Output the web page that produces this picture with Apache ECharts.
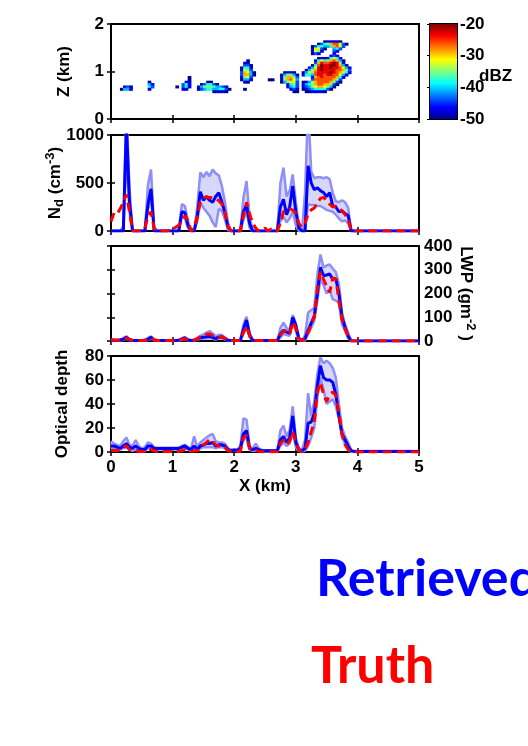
<!DOCTYPE html>
<html>
<head>
<meta charset="utf-8">
<script src="https://cdn.jsdelivr.net/npm/echarts@6/dist/echarts.min.js"></script>
<style>
  html, body { margin: 0; padding: 0; background: #fff; }
  #chart { width: 528px; height: 746px; }
</style>
</head>
<body>
<div id="chart"></div>
<script>
// ---------- Radar reflectivity curtain (dBZ) ----------
// Cells are 0.05 km wide (x) by 0.05 km tall (z).
// Each row: [z centre (km), [[first column index, level codes], ...]]
// Codes '0'..'a' index dbzLevels; '.' means no echo.
const CELL = 0.05;
const dbzLevels = [-50, -47, -44, -41, -38, -35, -32, -29, -26, -23, -20];
const echoRows = [
  [1.625, [[69, '011110']]],
  [1.575, [[67, '0245788620']]],
  [1.525, [[65, '02443347862']]],
  [1.475, [[65, '16620..342']]],
  [1.425, [[65, '1651...21']]],
  [1.375, [[65, '021....1']]],
  [1.325, [[71, '121']]],
  [1.275, [[67, '01014641']]],
  [1.225, [[44, '0'], [66, '0464578730']]],
  [1.175, [[43, '11'], [66, '279889a951']]],
  [1.125, [[43, '220'], [65, '048a99aa9730']]],
  [1.075, [[42, '0441'], [64, '1369a99a998631']]],
  [1.025, [[42, '1652'], [63, '03579a999988752']]],
  [0.975, [[42, '27630'], [56, '0110'], [62, '036589999a987641']]],
  [0.925, [[42, '27730'], [55, '035530'], [62, '144389989988631']]],
  [0.875, [[25, '0'], [42, '1562'], [55, '157752'], [65, '17898888741']]],
  [0.825, [[25, '0'], [42, '0331'], [51, '00'], [55, '157863'], [65, '2888888752']]],
  [0.775, [[12, '0'], [24, '11'], [31, '00'], [43, '10'], [55, '035662'], [62, '0135788887520']]],
  [0.725, [[12, '31'], [23, '241'], [29, '024420'], [57, '1452'], [62, '134578877520']]],
  [0.675, [[4, '120'], [12, '42'], [21, '0.241'], [28, '1355543321'], [57, '1342'], [62, '12356776530']]],
  [0.625, [[3, '0331'], [12, '1'], [23, '11'], [28, '02344334420'], [43, '0'], [58, '121'], [62, '0123444420']]],
  [0.575, [[33, '01110'], [59, '00'], [63, '0011110']]]
];

// ---------- Along-track profiles, x = 0, 0.05, ..., 5.00 km ----------
const X_STEP = 0.05;

// Droplet number concentration (cm^-3)
const ndRetrieved = [
  0,0,0,0,0,1100,300,0,0,0,0,0,280,440,0,0,0,0,0,0,
  0,0,0,200,190,60,0,0,150,410,320,360,320,300,360,400,300,190,40,0,
  0,0,0,200,270,80,0,0,0,0,0,0,0,0,0,250,330,170,250,470,
  200,30,0,0,680,500,430,450,420,400,360,400,260,250,200,210,180,160,0,0,
  0,0,0,0,0,0,0,0,0,0,0,0,0,0,0,0,0,0,0,0,0
];
const ndHigh = [
  0,0,0,0,50,1300,450,0,0,0,0,0,480,640,30,0,0,0,0,0,
  0,0,0,280,260,100,0,0,250,610,560,615,570,640,600,580,470,300,80,0,
  0,0,0,350,520,150,0,0,0,0,0,0,0,0,0,500,660,360,420,590,
  300,60,0,400,1300,620,550,560,560,550,560,540,400,310,300,320,300,240,0,0,
  0,0,0,0,0,0,0,0,0,0,0,0,0,0,0,0,0,0,0,0,0
];
const ndLow = [
  0,0,0,0,0,800,200,0,0,0,0,0,220,350,0,0,0,0,0,0,
  0,0,0,150,130,30,0,0,100,300,240,200,160,90,40,230,210,120,10,0,
  0,0,0,120,200,30,0,0,0,0,0,0,0,0,0,100,150,90,130,200,
  60,0,0,0,280,270,270,260,260,240,220,210,200,170,130,100,110,80,0,0,
  0,0,0,0,0,0,0,0,0,0,0,0,0,0,0,0,0,0,0,0,0
];
const ndTruth = [
  100,190,180,230,300,380,200,0,0,0,0,30,150,200,30,0,0,0,0,10,
  20,40,60,100,160,110,0,30,150,300,345,355,350,345,335,315,280,180,50,0,
  0,0,0,150,300,180,80,30,0,10,30,0,20,0,0,80,200,220,230,220,
  180,80,40,80,180,220,240,290,340,350,320,280,250,260,240,210,170,120,0,0,
  0,0,0,0,0,0,0,0,0,0,0,0,0,0,0,0,0,0,0,0,0
];

// Liquid water path (g m^-2)
const lwpRetrieved = [
  3,3,3,4,8,15,5,2,2,2,2,3,8,15,4,2,2,2,2,2,
  2,2,3,8,13,4,2,3,8,14,16,18,20,15,10,16,18,10,3,2,
  2,2,2,50,88,25,3,2,2,2,2,2,2,2,2,30,45,38,32,100,
  65,10,2,10,45,75,105,200,310,275,278,282,260,262,200,100,58,20,0,0,
  0,0,0,0,0,0,0,0,0,0,0,0,0,0,0,0,0,0,0,0,0
];
const lwpHigh = [
  5,4,4,6,12,20,8,3,3,3,3,4,12,20,6,3,3,3,3,3,
  3,3,4,12,17,6,3,5,12,22,28,35,42,33,20,26,25,14,5,3,
  3,3,3,70,102,35,4,3,3,3,3,3,3,3,3,55,77,55,45,110,
  75,15,3,25,120,130,140,280,364,310,318,322,305,290,240,120,70,35,0,0,
  0,0,0,0,0,0,0,0,0,0,0,0,0,0,0,0,0,0,0,0,0
];
const lwpLow = [
  2,2,2,2,5,10,3,1,1,1,1,1,5,10,2,1,1,1,1,1,
  1,1,2,5,9,2,1,2,5,9,10,11,12,9,6,11,12,6,2,1,
  1,1,1,35,65,15,2,1,1,1,1,1,1,1,1,15,30,25,22,80,
  40,5,1,2,30,55,85,170,260,235,200,215,175,170,160,70,42,10,0,0,
  0,0,0,0,0,0,0,0,0,0,0,0,0,0,0,0,0,0,0,0,0
];
const lwpTruth = [
  5,4,3,4,6,12,8,3,2,2,2,3,6,12,4,2,2,2,2,2,
  2,2,3,6,10,4,2,3,10,18,22,28,30,22,14,15,18,12,3,2,
  2,2,2,35,62,22,3,2,2,2,2,2,2,2,2,25,40,45,30,80,
  55,10,2,8,35,70,100,220,291,260,230,205,265,262,170,90,50,22,0,0,
  0,0,0,0,0,0,0,0,0,0,0,0,0,0,0,0,0,0,0,0,0
];

// Cloud optical depth
const tauRetrieved = [
  5,5,4,3,5,7,4,3,5,3,2,2,5,5,3,3,3,3,3,3,
  3,3,3,4,5,3,2,5,2,5,6,7,7,8,5,6,6,5,2,1,
  1.5,1.5,3,15,18,3,2,3,2,1,1,1,1,1,1,10,13,8,12,30,
  8,2,1,3,24,25,32,55,72,62,60,60,58,48,30,15,10,5,1,0.5,
  0.5,0.5,0.5,0.5,0.5,0.5,0.5,0.5,0.5,0.5,0.5,0.5,0.5,0.5,0.5,0.5,0.5,0.5,0.5,0.5,0.5
];
const tauHigh = [
  9,7,6,5,9,12,6,5,10,5,3,4,8,7,4,3.5,3.5,3.5,3.5,3.5,
  3.5,3.5,3.5,5,6,4,3,13,4,8,10,12,14,15,9,8,8,7,3,2,
  2,2,5,28,27,5,3,7,3,1.5,1.5,1.5,1.5,1.5,1.5,18,22,13,18,38,
  12,3,2,10,49,30,42,65,79,74,76,74,70,62,40,20,13,8,1,0.8,
  0.8,0.8,0.8,0.8,0.8,0.8,0.8,0.8,0.8,0.8,0.8,0.8,0.8,0.8,0.8,0.8,0.8,0.8,0.8,0.8,0.8
];
const tauLow = [
  3,3,2,2,3,4,2,1,2,1,1,1,3,3,2,2,2,2,2,2,
  2,2,2,3,3,2,1,1,1,3,4,4,4,4,3,4,4,3,1,1,
  1,1,2,10,12,2,1,1,1,0.5,0.5,0.5,0.5,0.5,0.5,5,8,5,7,18,
  4,1,0.5,1,5,12,20,45,62,52,40,42,44,38,28,12,7,2,0,0.3,
  0.3,0.3,0.3,0.3,0.3,0.3,0.3,0.3,0.3,0.3,0.3,0.3,0.3,0.3,0.3,0.3,0.3,0.3,0.3,0.3,0.3
];
const tauTruth = [
  1,1.5,1,2,4,5,2,1,1,0.5,0.5,0.5,2,2,1,0.5,0.5,0.5,0.5,0.5,
  0.5,0.5,0.5,1,2,1,0.5,1,1,4,6,8,10.5,9,6,5,6,4,1,0.5,
  0.5,0.5,0.5,12,14,3,1,1,0.5,0.3,0.3,0.3,0.3,0.3,0.3,7,10,6,9,17,
  8,2,0,2,8,17,25,50,58,48,42,48,50,47,33,15,6,2,0,0,
  0,0,0,0,0,0,0,0,0,0,0,0,0,0,0,0,0,0,0,0,0
];

// Colour scale end points and legend words
const dbzRange = [-50, -20];
const legendWords = ['Retrieved', 'Truth'];

// ---------- styling ----------
const FONT = 'Liberation Sans';
const JET = ['#00008f', '#0000ff', '#0080ff', '#00ffff', '#80ff80',
             '#ffff00', '#ff8000', '#ff0000', '#800000'];
const BLUE = '#0000ff';
const RED = '#ff0000';
const BAND_EDGE = '#8f8ff7';
const BAND_FILL = '#d6d6fa';

const plainNumber = v => String(v);
const tickText = { color: '#000', fontFamily: FONT, fontSize: 17, fontWeight: 'bold', formatter: plainNumber };
const nameText = { color: '#000', fontFamily: FONT, fontSize: 17, fontWeight: 'bold' };
const richName = {
  b:   { color: '#000', fontFamily: FONT, fontSize: 17, fontWeight: 'bold', lineHeight: 22 },
  sub: { color: '#000', fontFamily: FONT, fontSize: 13, fontWeight: 'bold', lineHeight: 13, verticalAlign: 'bottom' },
  sup: { color: '#000', fontFamily: FONT, fontSize: 13, fontWeight: 'bold', lineHeight: 13, verticalAlign: 'top' }
};

// ---------- build data ----------
const echoCells = [];
echoRows.forEach(([z, segs]) => {
  segs.forEach(([col, codes]) => {
    [...codes].forEach((ch, k) => {
      if (ch === '.') return;
      echoCells.push([+((col + k + 0.5) * CELL).toFixed(3), z, dbzLevels[parseInt(ch, 11)]]);
    });
  });
});

const toXY = arr => arr.map((v, i) => [+(i * X_STEP).toFixed(2), v]);
const bandQuads = (lo, hi) => lo.slice(0, -1).map((v, i) =>
  [+(i * X_STEP).toFixed(2), +((i + 1) * X_STEP).toFixed(2), v, lo[i + 1], hi[i], hi[i + 1]]);

// ---------- layout ----------
const PANEL_LEFT = 111, PANEL_W = 308;
const grids = [
  { left: PANEL_LEFT, top: 24,  width: PANEL_W, height: 95 },
  { left: PANEL_LEFT, top: 135, width: PANEL_W, height: 96 },
  { left: PANEL_LEFT, top: 246, width: PANEL_W, height: 95 },
  { left: PANEL_LEFT, top: 356, width: PANEL_W, height: 96 },
  { left: 430, top: 24, width: 27, height: 95 }
].map(g => Object.assign(g, { show: true, borderColor: '#000', borderWidth: 2, backgroundColor: 'rgba(0,0,0,0)' }));

const tickStyle = { show: true, inside: true, length: 4, lineStyle: { color: '#000', width: 1.5 } };

function xPair(gridIndex, withLabels) {
  const base = { type: 'value', gridIndex, min: 0, max: 5, interval: 1,
    axisLine: { show: false }, splitLine: { show: false }, axisTick: tickStyle };
  const bottom = Object.assign({}, base, { position: 'bottom',
    axisLabel: Object.assign({ show: withLabels, margin: 7 }, tickText) });
  if (withLabels) {
    Object.assign(bottom, { name: 'X (km)', nameLocation: 'middle', nameGap: 26,
      nameMoveOverlap: false, nameTextStyle: nameText });
  }
  const top = Object.assign({}, base, { position: 'top', axisLabel: { show: false } });
  return [bottom, top];
}

function yPair(gridIndex, cfg) {
  const base = { type: 'value', gridIndex, min: cfg.min, max: cfg.max, interval: cfg.interval,
    axisLine: { show: false }, splitLine: { show: false }, axisTick: tickStyle };
  const left = Object.assign({}, base, { position: 'left',
    axisLabel: Object.assign({ show: cfg.side === 'left', margin: 7 }, tickText) });
  const right = Object.assign({}, base, { position: 'right',
    axisLabel: Object.assign({ show: cfg.side === 'right', margin: 5 }, tickText) });
  const named = cfg.side === 'right' ? right : left;
  Object.assign(named, { name: cfg.name, nameLocation: 'middle', nameGap: cfg.nameGap,
    nameMoveOverlap: false,
    nameTextStyle: cfg.rich ? { rich: richName } : nameText });
  if (cfg.nameRotate != null) named.nameRotate = cfg.nameRotate;
  return [left, right];
}

const xAxes = [
  ...xPair(0, false), ...xPair(1, false), ...xPair(2, false), ...xPair(3, true),
  { type: 'value', gridIndex: 4, min: 0, max: 1, show: false }
];
const yAxes = [
  ...yPair(0, { min: 0, max: 2, interval: 1, side: 'left', name: 'Z (km)', nameGap: 38 }),
  ...yPair(1, { min: 0, max: 1000, interval: 500, side: 'left', rich: true, nameGap: 45,
               name: '{b|N}{sub|d}{b| (cm}{sup|-3}{b|)}' }),
  ...yPair(2, { min: 0, max: 400, interval: 100, side: 'right', rich: true, nameGap: 36, nameRotate: -90,
               name: '{b|LWP (gm}{sup|-2}{b| )}' }),
  ...yPair(3, { min: 0, max: 80, interval: 20, side: 'left', name: 'Optical depth', nameGap: 40 }),
  { type: 'value', gridIndex: 4, min: dbzRange[0], max: dbzRange[1], interval: 10, position: 'right',
    axisLine: { show: false }, splitLine: { show: false },
    axisTick: { show: true, inside: true, length: 3, lineStyle: { color: '#000', width: 1 } },
    axisLabel: Object.assign({ margin: 3 }, tickText) }
];

// ---------- series ----------
function renderEchoCell(params, api) {
  const c = api.coord([api.value(0), api.value(1)]);
  const s = api.size([CELL, CELL]);
  return { type: 'rect',
    shape: { x: c[0] - s[0] / 2 - 0.3, y: c[1] - s[1] / 2 - 0.3, width: s[0] + 0.6, height: s[1] + 0.6 },
    style: { fill: api.visual('color') } };
}

function renderColorBar(params, api) {
  const tl = api.coord([api.value(0), api.value(3)]);
  const br = api.coord([api.value(1), api.value(2)]);
  const stops = JET.map((c, i) => ({ offset: i / (JET.length - 1), color: c }));
  return { type: 'rect',
    shape: { x: tl[0], y: tl[1], width: br[0] - tl[0], height: br[1] - tl[1] },
    style: { fill: new echarts.graphic.LinearGradient(0, 1, 0, 0, stops) } };
}

function renderBand(params, api) {
  const pts = [
    api.coord([api.value(0), api.value(2)]),
    api.coord([api.value(1), api.value(3)]),
    api.coord([api.value(1), api.value(5)]),
    api.coord([api.value(0), api.value(4)])
  ];
  const cs = params.coordSys;
  const clipped = echarts.graphic.clipPointsByRect(pts, { x: cs.x, y: cs.y, width: cs.width, height: cs.height });
  return { type: 'polygon', shape: { points: clipped },
    style: { fill: BAND_FILL, stroke: BAND_FILL, lineWidth: 0.6 } };
}

function profileSeries(axis, lo, hi, ret, truth) {
  const line = (data, style, z) => ({
    type: 'line', xAxisIndex: axis, yAxisIndex: axis, data: toXY(data),
    symbol: 'none', showSymbol: false, clip: true, z, silent: true, lineStyle: style
  });
  return [
    { type: 'custom', xAxisIndex: axis, yAxisIndex: axis, data: bandQuads(lo, hi),
      renderItem: renderBand, z: 1, silent: true },
    line(lo, { color: BAND_EDGE, width: 2.5 }, 2),
    line(hi, { color: BAND_EDGE, width: 2.5 }, 2),
    line(ret, { color: BLUE, width: 3 }, 3),
    line(truth, { color: RED, width: 3, type: [9, 5] }, 4)
  ];
}

const series = [
  { type: 'custom', xAxisIndex: 0, yAxisIndex: 0, data: echoCells,
    encode: { x: 0, y: 1 }, renderItem: renderEchoCell, silent: true },
  { type: 'custom', xAxisIndex: 8, yAxisIndex: 8, data: [[0, 1, dbzRange[0], dbzRange[1]]],
    renderItem: renderColorBar, silent: true },
  ...profileSeries(2, ndLow, ndHigh, ndRetrieved, ndTruth),
  ...profileSeries(4, lwpLow, lwpHigh, lwpRetrieved, lwpTruth),
  ...profileSeries(6, tauLow, tauHigh, tauRetrieved, tauTruth)
];

const chart = echarts.init(document.getElementById('chart'), null, { renderer: 'canvas' });
chart.setOption({
  animation: false,
  backgroundColor: '#fff',
  grid: grids,
  xAxis: xAxes,
  yAxis: yAxes,
  visualMap: [{ type: 'continuous', show: false, seriesIndex: 0, dimension: 2,
    min: dbzRange[0], max: dbzRange[1], inRange: { color: JET } }],
  series,
  graphic: [
    { type: 'text', x: 479, y: 76,
      style: { text: 'dBZ', fill: '#000', font: 'bold 17px "Liberation Sans"', verticalAlign: 'middle', align: 'left' } },
    { type: 'text', x: 316, y: 579,
      style: { text: legendWords[0], fill: BLUE, font: 'bold 52px Lato', verticalAlign: 'middle', align: 'left' } },
    { type: 'text', x: 311, y: 666,
      style: { text: legendWords[1], fill: RED, font: 'bold 52px Lato', verticalAlign: 'middle', align: 'left' } }
  ]
});
</script>
</body>
</html>
